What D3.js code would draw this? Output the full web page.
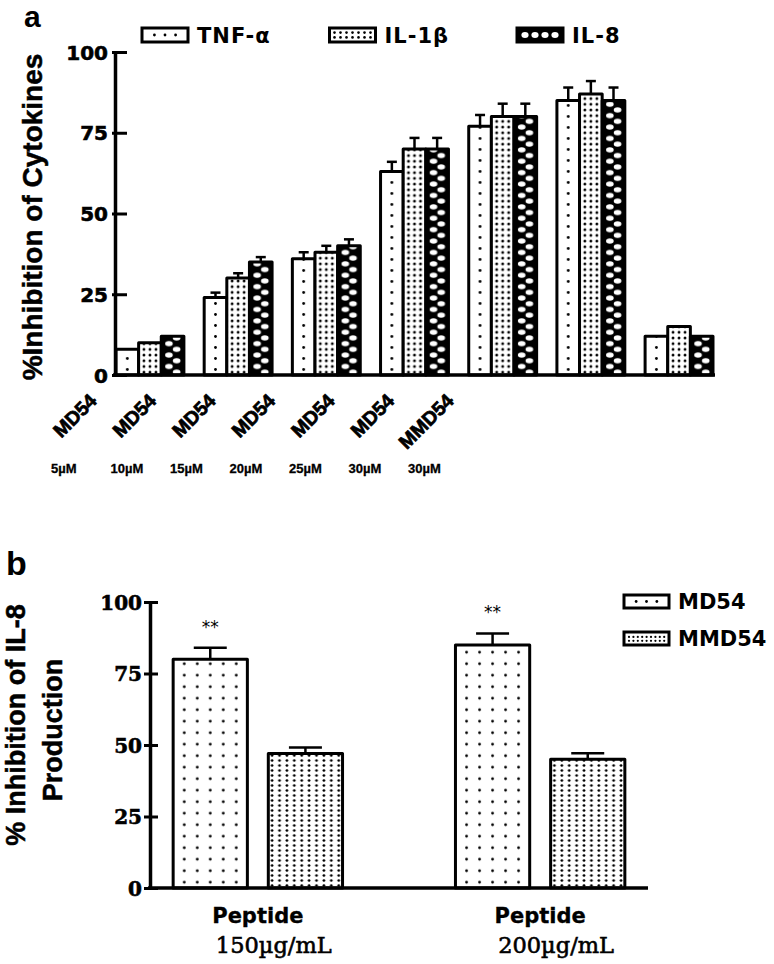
<!DOCTYPE html>
<html><head><meta charset="utf-8">
<script src="https://cdn.jsdelivr.net/npm/d3@7"></script>
<style>body{margin:0;background:#fff}</style>
</head><body><svg id="c" width="774" height="964"></svg>
<script>
// ---------- Panel a data ----------
const groupsA = ["MD54 5µM","MD54 10µM","MD54 15µM","MD54 20µM","MD54 25µM","MD54 30µM","MMD54 30µM"];
const catTopA = ["MD54","MD54","MD54","MD54","MD54","MD54","MMD54"];
const catBottomA = ["5µM","10µM","15µM","20µM","25µM","30µM","30µM"];
const seriesA = ["TNF-α","IL-1β","IL-8"];
const valsTNF  = [8, 24, 36, 63, 77, 85, 12];
const valsIL1b = [10, 30, 38, 70, 80, 87, 15];
const valsIL8  = [12, 35, 40, 70, 80, 85, 12];
const errTNF  = [0, 1.5, 2, 3, 3.5, 4, 0];
const errIL1b = [0, 1.5, 2, 3.4, 4, 4, 0];
const errIL8  = [0, 1.5, 2, 3.4, 4, 4, 0];
const yTicksA = [0, 25, 50, 75, 100];
const yTitleA = "%Inhibition of Cytokines";

// ---------- Panel b data ----------
const groupsB = ["Peptide 150µg/mL","Peptide 200µg/mL"];
const catTopB = ["Peptide","Peptide"];
const catBottomB = ["150µg/mL","200µg/mL"];
const seriesB = ["MD54","MMD54"];
const valsMD54  = [80, 85];
const valsMMD54 = [47, 45];
const errMD54  = [4, 4];
const errMMD54 = [2.1, 2.1];
const sigMD54 = ["**","**"];
const yTicksB = [0, 25, 50, 75, 100];
const yTitleB = ["% Inhibition of IL-8","Production"];

const svg = d3.select("#c");
const defs = svg.append("defs");
function addPattern(id, x, y, w, h, bg, shapes){
  const p = defs.append("pattern").attr("id", id).attr("patternUnits","userSpaceOnUse")
    .attr("x", x).attr("y", y).attr("width", w).attr("height", h);
  p.append("rect").attr("width", w).attr("height", h).attr("fill", bg);
  shapes.forEach(s => p.append("ellipse").attr("cx", s[0]).attr("cy", s[1])
    .attr("rx", s[2]).attr("ry", s[3]).attr("fill", s[4]));
}
const SANS = "'Liberation Sans', Arial, sans-serif";
const DSANS = "'DejaVu Sans', Verdana, sans-serif";
const DSERIF = "'DejaVu Serif', serif";
function heavy(sel, w){ return sel.attr("stroke", "#000").attr("stroke-width", w).attr("paint-order", "stroke"); }

// ================= Panel a =================
const axisXA = 115;
const x0A = d3.scaleBand().domain(groupsA).range([116, 713]).paddingInner(0.23).paddingOuter(0);
const x1A = d3.scaleBand().domain(seriesA).range([0, x0A.bandwidth()]).padding(0);
const yA = d3.scaleLinear().domain([0, 100]).range([375, 52]);
const valsA = [valsTNF, valsIL1b, valsIL8];
const errsA = [errTNF, errIL1b, errIL8];
const barsA = groupsA.flatMap((g, gi) => seriesA.map((s, si) => ({g, gi, s, si, v: valsA[si][gi], e: errsA[si][gi]})));
const bwA = x1A.bandwidth();
const baseA = yA(0);

barsA.forEach(d => {
  const x = x0A(d.g) + x1A(d.s);
  const id = `pa-${d.gi}-${d.si}`;
  if (d.si === 0) addPattern(id, x, baseA, bwA, 11, "#fff", [[bwA/2, 5.5, 1.4, 1.4, "#000"]]);
  else if (d.si === 1) addPattern(id, x + bwA/2 - 9, baseA, 6, 5.7, "#fff", [[3, 2.85, 1.45, 1.45, "#000"]]);
  else addPattern(id, x, baseA, bwA, 11.4, "#000", [[bwA*0.34, 2.85, 3.8, 2.5, "#fff"], [bwA*0.68, 8.55, 3.8, 2.5, "#fff"]]);
  d.id = id;
});

const gA = svg.append("g");
const errA = barsA.filter(d => d.e > 0);
gA.selectAll("line.eb").data(errA).join("line")
  .attr("x1", d => x0A(d.g) + x1A(d.s) + bwA/2).attr("x2", d => x0A(d.g) + x1A(d.s) + bwA/2)
  .attr("y1", d => yA(d.v)).attr("y2", d => yA(d.v + d.e))
  .attr("stroke", "#000").attr("stroke-width", 2.5);
gA.selectAll("line.cap").data(errA).join("line")
  .attr("x1", d => x0A(d.g) + x1A(d.s) + bwA/2 - 5).attr("x2", d => x0A(d.g) + x1A(d.s) + bwA/2 + 5)
  .attr("y1", d => yA(d.v + d.e)).attr("y2", d => yA(d.v + d.e))
  .attr("stroke", "#000").attr("stroke-width", 2.5);
gA.selectAll("rect.bar").data(barsA).join("rect")
  .attr("x", d => x0A(d.g) + x1A(d.s)).attr("y", d => yA(d.v))
  .attr("width", bwA).attr("height", d => baseA - yA(d.v))
  .attr("fill", d => `url(#${d.id})`).attr("stroke", "#000").attr("stroke-width", 3)
  .attr("stroke-linejoin", "round");

gA.append("line").attr("x1", axisXA - 2).attr("x2", x0A.range()[1] + 2)
  .attr("y1", baseA).attr("y2", baseA).attr("stroke", "#000").attr("stroke-width", 3.5);
const yAxisA = gA.append("g").attr("transform", `translate(${axisXA},0)`)
  .call(d3.axisLeft(yA).tickValues(yTicksA).tickSizeInner(-12).tickSizeOuter(0).tickPadding(7));
yAxisA.select(".domain").attr("stroke-width", 3.5);
yAxisA.selectAll(".tick line").attr("x1", -3).attr("stroke-width", 3);
heavy(yAxisA.selectAll(".tick text").attr("font-family", DSANS).attr("font-weight", "bold")
  .attr("font-size", 20).attr("fill", "#000").attr("dy", "0.36em"), 0.6);

const labA = d3.scalePoint().domain(groupsA).range([98, 455]);
heavy(gA.selectAll("text.cat").data(groupsA).join("text")
  .attr("transform", d => `translate(${labA(d)},402) rotate(-45)`)
  .attr("text-anchor", "end").attr("font-family", SANS).attr("font-weight", "bold")
  .attr("font-size", 19.5).text((d, i) => catTopA[i]), 0.7);
heavy(gA.selectAll("text.conc").data(groupsA).join("text")
  .attr("x", d => labA(d) - 47).attr("y", 473)
  .attr("font-family", SANS).attr("font-weight", "bold").attr("font-size", 13)
  .text((d, i) => catBottomA[i]), 0.3);

heavy(gA.append("text").attr("transform", "translate(42,217) rotate(-90)")
  .attr("text-anchor", "middle").attr("font-family", SANS).attr("font-weight", "bold")
  .attr("font-size", 28).text(yTitleA), 0.5);
svg.append("text").attr("x", 24).attr("y", 27).attr("font-family", SANS).attr("font-weight", "bold")
  .attr("font-size", 30).text("a");

const legA = d3.scalePoint().domain(seriesA).range([142, 517]);
seriesA.forEach((s, si) => {
  const lx = legA(s), ly = 28, lw = 46, lh = 14;
  const g = gA.append("g");
  g.append("rect").attr("x", lx).attr("y", ly).attr("width", lw).attr("height", lh)
    .attr("fill", si === 2 ? "#000" : "#fff").attr("stroke", "#000").attr("stroke-width", 3);
  if (si === 0) [0.27, 0.5, 0.73].forEach(f => g.append("circle").attr("cx", lx + lw*f).attr("cy", ly + lh/2).attr("r", 1.4));
  if (si === 1) d3.range(7).forEach(k => [0.33, 0.67].forEach(f => g.append("circle")
      .attr("cx", lx + 5 + k*6).attr("cy", ly + lh*f).attr("r", 1.3)));
  if (si === 2) d3.range(4).forEach(k => g.append("ellipse").attr("cx", lx + 8 + k*10).attr("cy", ly + lh/2)
      .attr("rx", 3.6).attr("ry", 3).attr("fill", "#fff"));
  g.append("text").attr("x", lx + lw + 9).attr("y", 43).attr("font-family", DSANS)
    .attr("font-weight", "bold").attr("font-size", 21).attr("letter-spacing", 1).text(s);
});

// ================= Panel b =================
const axisXB = 150;
const x0B = d3.scaleBand().domain(groupsB).range([150, 648]).paddingInner(0.4).paddingOuter(0.082);
const x1B = d3.scaleBand().domain(seriesB).range([0, x0B.bandwidth()]).paddingInner(0.22).paddingOuter(0);
const yB = d3.scaleLinear().domain([0, 100]).range([888, 602]);
const valsB = [valsMD54, valsMMD54];
const errsB = [errMD54, errMMD54];
const bwB = x1B.bandwidth();
const baseB = yB(0);
const barsB = groupsB.flatMap((g, gi) => seriesB.map((s, si) => ({g, gi, s, si, v: valsB[si][gi], e: errsB[si][gi]})));
barsB.forEach(d => {
  const x = x0B(d.g) + x1B(d.s);
  const id = `pb-${d.gi}-${d.si}`;
  if (d.si === 0) addPattern(id, x + bwB/2 - 32.5, baseB, 13, 11.5, "#fff", [[6.5, 5.75, 1.4, 1.4, "#000"]]);
  else addPattern(id, x + bwB/2 - 37, baseB, 7.4, 5, "#fff", [[3.7, 2.5, 1.35, 1.35, "#000"]]);
  d.id = id;
});
const gB = svg.append("g");
gB.selectAll("line.eb").data(barsB).join("line")
  .attr("x1", d => x0B(d.g) + x1B(d.s) + bwB/2).attr("x2", d => x0B(d.g) + x1B(d.s) + bwB/2)
  .attr("y1", d => yB(d.v)).attr("y2", d => yB(d.v + d.e))
  .attr("stroke", "#000").attr("stroke-width", 2.5);
gB.selectAll("line.cap").data(barsB).join("line")
  .attr("x1", d => x0B(d.g) + x1B(d.s) + bwB/2 - 16.5).attr("x2", d => x0B(d.g) + x1B(d.s) + bwB/2 + 16.5)
  .attr("y1", d => yB(d.v + d.e)).attr("y2", d => yB(d.v + d.e))
  .attr("stroke", "#000").attr("stroke-width", 2.5);
gB.selectAll("rect.bar").data(barsB).join("rect")
  .attr("x", d => x0B(d.g) + x1B(d.s)).attr("y", d => yB(d.v))
  .attr("width", bwB).attr("height", d => baseB - yB(d.v))
  .attr("fill", d => `url(#${d.id})`).attr("stroke", "#000").attr("stroke-width", 3)
  .attr("stroke-linejoin", "round");
gB.selectAll("text.sig").data(groupsB).join("text")
  .attr("x", (g) => x0B(g) + x1B(seriesB[0]) + bwB/2)
  .attr("y", (g, i) => yB(valsMD54[i] + errMD54[i]) - 15)
  .attr("text-anchor", "middle").attr("font-family", DSANS).attr("font-size", 17)
  .text((g, i) => sigMD54[i]);
gB.append("line").attr("x1", axisXB - 2).attr("x2", x0B.range()[1])
  .attr("y1", baseB).attr("y2", baseB).attr("stroke", "#000").attr("stroke-width", 3.5);
const yAxisB = gB.append("g").attr("transform", `translate(${axisXB},0)`)
  .call(d3.axisLeft(yB).tickValues(yTicksB).tickSizeInner(-8).tickSizeOuter(0).tickPadding(8));
yAxisB.select(".domain").attr("stroke-width", 3.5);
yAxisB.selectAll(".tick line").attr("x1", -6).attr("stroke-width", 3);
heavy(yAxisB.selectAll(".tick text").attr("font-family", DSERIF).attr("font-weight", "bold")
  .attr("font-size", 20).attr("fill", "#000").attr("dy", "0.36em"), 0.6);
heavy(gB.selectAll("text.cat").data(groupsB).join("text")
  .attr("x", g => x0B(g) + x0B.bandwidth()/2).attr("y", 923)
  .attr("text-anchor", "middle").attr("font-family", DSANS).attr("font-weight", "bold")
  .attr("font-size", 21).text((g, i) => catTopB[i]), 0.3);
heavy(gB.selectAll("text.conc").data(groupsB).join("text")
  .attr("x", g => x0B(g) + x0B.bandwidth()/2 - 42).attr("y", 953)
  .attr("font-family", DSERIF).attr("font-size", 22.5).text((g, i) => catBottomB[i]), 0.6);
heavy(gB.append("text").attr("transform", "translate(25,725) rotate(-90)")
  .attr("text-anchor", "middle").attr("font-family", SANS).attr("font-weight", "bold")
  .attr("font-size", 27).text(yTitleB[0]), 0.5);
heavy(gB.append("text").attr("transform", "translate(62,730) rotate(-90)")
  .attr("text-anchor", "middle").attr("font-family", SANS).attr("font-weight", "bold")
  .attr("font-size", 27).text(yTitleB[1]), 0.5);
svg.append("text").attr("x", 6).attr("y", 575).attr("font-family", SANS).attr("font-weight", "bold")
  .attr("font-size", 34).text("b");
const legB = d3.scalePoint().domain(seriesB).range([595, 632]);
seriesB.forEach((s, si) => {
  const lx = 624, ly = legB(s), lw = 45, lh = 13;
  const g = gB.append("g");
  g.append("rect").attr("x", lx).attr("y", ly).attr("width", lw).attr("height", lh)
    .attr("fill", "#fff").attr("stroke", "#000").attr("stroke-width", 3);
  if (si === 0) [0.27, 0.5, 0.73].forEach(f => g.append("circle").attr("cx", lx + lw*f).attr("cy", ly + lh/2).attr("r", 1.4));
  else d3.range(9).forEach(k => [0.38, 0.68].forEach(f => g.append("circle")
      .attr("cx", lx + 5 + k*4.4).attr("cy", ly + lh*f).attr("r", 1.1)));
  g.append("text").attr("x", lx + lw + 9).attr("y", ly + lh + 1).attr("font-family", DSANS)
    .attr("font-weight", "bold").attr("font-size", 21).text(s);
});
</script></body></html>
